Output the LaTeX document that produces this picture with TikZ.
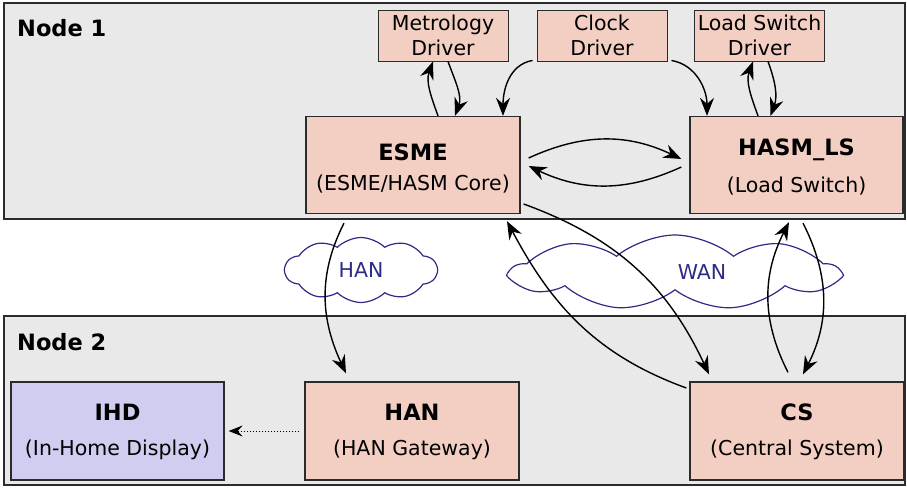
\documentclass[tikz,border=0pt]{standalone}
\usepackage{fontspec}
\setmainfont{DejaVu Sans}
\usetikzlibrary{shapes.symbols,arrows.meta}
\definecolor{nodegray}{HTML}{E9E9E9}
\definecolor{boxpink}{HTML}{F3CFC3}
\definecolor{boxlilac}{HTML}{D0CDF1}
\definecolor{netblue}{HTML}{2E2A85}
\definecolor{linegray}{HTML}{2B2B2B}

\begin{document}
\begin{tikzpicture}[x=1pt,y=1pt,
  frame/.style={draw=linegray,line width=1.6pt,fill=nodegray},
  bigbox/.style={shape=rectangle,draw=linegray,line width=1.3pt,fill=boxpink,minimum width=214pt,minimum height=97pt,inner sep=0pt,align=center,font=\fontsize{20.5}{30}\selectfont},
  drvbox/.style={shape=rectangle,draw=linegray,line width=0.9pt,fill=boxpink,minimum width=130pt,minimum height=51pt,inner sep=0pt,align=center,font=\fontsize{20.5}{25}\selectfont},
  net/.style={cloud,cloud ignores aspect,draw=netblue,line width=1.2pt,text=netblue,font=\fontsize{20.5}{22}\selectfont},
  link/.style={-{Stealth[length=18pt,width=14pt,inset=6pt]},line width=1.4pt}]
%%%%%%%%%%%%%%%%%%%%%%%%%%%%%%%%%%%%%%%%%%% HELP LINES
%\draw[help lines,step=50] (0,0) grid (907,488);
\useasboundingbox (0,0) rectangle (907,488);

%%%%%%%%%%%%%%%%%%%%%%%%%%%%%%%%%%%%%%%%%%% frames
\draw[frame] (4,269) rectangle (905,485);
\draw[frame] (4,3) rectangle (905,172);
\node[anchor=base west,inner sep=0pt,font=\fontsize{22.5}{24}\selectfont\bfseries](lblone) at (17,451) {Node 1};
\node[anchor=base west,inner sep=0pt,font=\fontsize{22.5}{24}\selectfont\bfseries](lbltwo) at (17,138) {Node 2};

%%%%% drivers
\node[drvbox](metdrv) at (443,452.5) {Metrology\\Driver};
\node[drvbox](clkdrv) at (602,452.5) {Clock\\Driver};
\node[drvbox](lsdrv) at (759.5,452.5) {Load Switch\\Driver};

%%%%% node 1 boxes
\node[bigbox](esme) at (413,323) {\rule{0pt}{23pt}{\fontsize{22.5}{30}\selectfont\bfseries ESME}\\(ESME/HASM Core)};
\node[bigbox,minimum width=213pt](hasm) at (796.5,323) {\rule{0pt}{20pt}{\fontsize{22.5}{30}\selectfont\bfseries HASM\_LS}\\[7pt](Load Switch)};

%%%%% node 2 boxes
\node[bigbox,fill=boxlilac,minimum width=213pt,minimum height=98pt](ihd) at (117.5,57) {\rule{0pt}{18pt}{\fontsize{22.5}{30}\selectfont\bfseries IHD}\\[5pt](In-Home Display)};
\node[bigbox,minimum height=98pt](han) at (412,57) {\rule{0pt}{18pt}{\fontsize{22.5}{30}\selectfont\bfseries HAN}\\[5pt](HAN Gateway)};
\node[bigbox,minimum height=98pt](cs) at (797,57) {\rule{0pt}{18pt}{\fontsize{22.5}{30}\selectfont\bfseries CS}\\[5pt](Central System)};

%%%%% networks
\node[net,minimum width=152pt,minimum height=65pt,cloud puffs=10,cloud puff arc=90](hancloud) at (361,218) {HAN};
\node[net,minimum width=326pt,minimum height=75pt,cloud puffs=9,cloud puff arc=80](wancloud) at (675,215.5) {};
\node[text=netblue,font=\fontsize{20.5}{22}\selectfont](wanlbl) at (702,216) {WAN};

%%%%% driver links
\draw[link] ([xshift=25]esme.north) to[out=110,in=-110] ([xshift=-10]metdrv.south);
\draw[link] ([xshift=5]metdrv.south) to[out=-70,in=70] ([xshift=42]esme.north);
\draw[link] ([xshift=-4,yshift=1]clkdrv.south west) to[out=190,in=90] ([xshift=90]esme.north);
\draw[link] ([xshift=4,yshift=1]clkdrv.south east) to[out=-10,in=90] ([xshift=-89.5]hasm.north);
\draw[link] ([xshift=-38.5]hasm.north) to[out=110,in=-110] ([xshift=-6.5]lsdrv.south);
\draw[link] ([xshift=8.5]lsdrv.south) to[out=-70,in=70] ([xshift=-26]hasm.north);

%%%%% esme <-> hasm
\draw[link] ([xshift=8,yshift=7]esme.east) to[bend left=25] ([xshift=-8,yshift=6]hasm.west);
\draw[link] ([xshift=-8,yshift=-2]hasm.west) to[bend left=25] ([xshift=8,yshift=-1]esme.east);

%%%%% node 1 <-> node 2
\draw[link] ([xshift=-69,yshift=-9]esme.south) to[out=-117,in=115] ([xshift=-66,yshift=8]han.north);
\draw[link] ([xshift=3,yshift=-39]esme.east) to[out=-20,in=115] ([xshift=-88,yshift=7]cs.north);
\draw[link] ([xshift=-3,yshift=43]cs.west) to[out=160,in=-62] ([xshift=94,yshift=-7]esme.south);
\draw[link] ([xshift=-9,yshift=9]cs.north) to[out=117,in=-117] ([xshift=-7.5,yshift=-8]hasm.south);
\draw[link] ([xshift=6.5,yshift=-9]hasm.south) to[out=-63,in=63] ([xshift=6,yshift=7]cs.north);

%%%%% han -> ihd
\draw[-{Stealth[length=14pt,width=11pt,inset=5pt]},line width=1pt,dotted] ([xshift=-5]han.west) -- ([xshift=4]ihd.east);
\end{tikzpicture}
\end{document}
